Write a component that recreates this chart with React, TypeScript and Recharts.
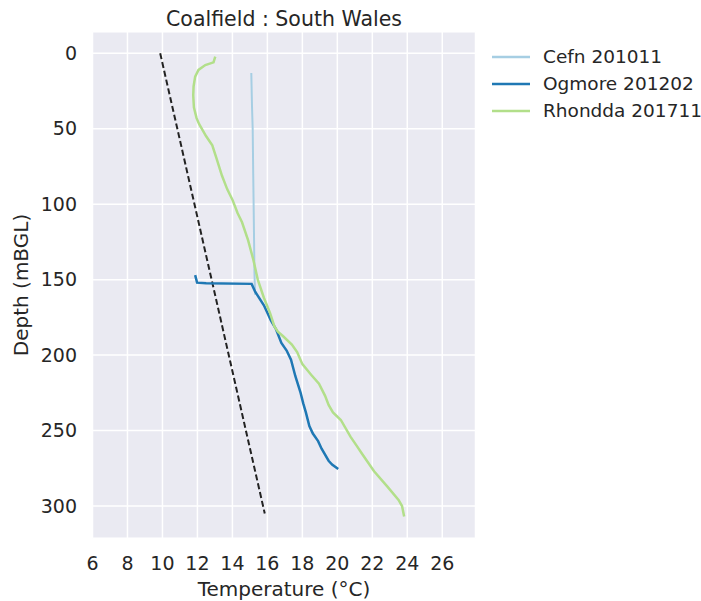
import { ScatterChart, Scatter, XAxis, YAxis, CartesianGrid, Label } from "recharts";

// [temperature °C, depth mBGL]
const cefn: [number, number][] = [
  [15.08, 13], [15.12, 35], [15.16, 50], [15.19, 80], [15.21, 97],
  [15.24, 125], [15.26, 145], [15.28, 153], [15.3, 160],
];

const ogmore: [number, number][] = [
  [11.87, 147], [11.98, 152], [12.5, 152.4], [15.1, 152.8], [15.3, 158],
  [15.8, 167], [16.2, 177], [16.5, 183], [16.8, 192], [17.1, 197],
  [17.35, 203], [17.6, 214], [17.9, 225], [18.05, 232], [18.2, 238],
  [18.4, 247], [18.6, 252], [18.9, 257], [19.1, 262], [19.5, 270],
  [19.7, 272.5], [20.05, 275.5],
];

const rhondda: [number, number][] = [
  [13.02, 2.2], [12.92, 6], [12.45, 7.8], [12.06, 11], [11.87, 15.5],
  [11.78, 22], [11.76, 28], [11.8, 36], [11.95, 43], [12.1, 47],
  [12.5, 55], [12.85, 61], [13.1, 70], [13.4, 81], [13.7, 90],
  [14.0, 97], [14.3, 106], [14.55, 112], [14.9, 124], [15.2, 137],
  [15.45, 150], [15.8, 162], [16.15, 172], [16.4, 181], [16.6, 184.5],
  [16.9, 187.5], [17.4, 193], [17.7, 198], [18.0, 206], [18.5, 213],
  [18.95, 219], [19.3, 227], [19.5, 233], [19.75, 238], [20.2, 243],
  [20.75, 254], [21.1, 260], [21.45, 266], [22.1, 277], [22.85, 287],
  [23.5, 296], [23.7, 300], [23.82, 307],
];

const gradient: [number, number][] = [[9.87, 0], [15.85, 305]];

const xTicks = [6, 8, 10, 12, 14, 16, 18, 20, 22, 24, 26];
const yTicks = [0, 50, 100, 150, 200, 250, 300];

const series = [
  { name: "Cefn 201011", color: "#a6cee3", points: cefn },
  { name: "Ogmore 201202", color: "#1f78b4", points: ogmore },
  { name: "Rhondda 201711", color: "#b2df8a", points: rhondda },
];

const toRows = (pts: [number, number][]) => pts.map(([t, d]) => ({ t, d }));

const font = "'DejaVu Sans', sans-serif";
const textColor = "#262626";

const noDot = () => <g />;

export default function App() {
  return (
    <div style={{ position: "absolute", left: 0, top: 0, width: 701, height: 601, fontFamily: font, background: "#fff" }}>
      <div
        style={{
          position: "absolute", left: 0, top: 9, width: 568, textAlign: "center",
          fontSize: 20.5, lineHeight: "20px", color: textColor, whiteSpace: "nowrap",
        }}
      >
        Coalfield : South Wales
      </div>

      <ScatterChart width={701} height={601} margin={{ top: 31.7, right: 225.5, bottom: 22.7, left: 0 }}>
        <CartesianGrid fill="#EAEAF2" stroke="#ffffff" strokeWidth={1.5} />
        <XAxis
          type="number"
          dataKey="t"
          domain={[6, 27.9]}
          ticks={xTicks}
          allowDataOverflow
          height={40}
          axisLine={false}
          tickLine={false}
          tickSize={0}
          tickMargin={18}
          tick={{ fontSize: 19, fill: textColor, fontFamily: font }}
        >
          <Label
            content={({ viewBox }: any) => (
              <text x={viewBox.x + viewBox.width / 2} y={596} textAnchor="middle" fontSize={20} fill={textColor} fontFamily={font}>
                Temperature (°C)
              </text>
            )}
          />
        </XAxis>
        <YAxis
          type="number"
          dataKey="d"
          reversed
          domain={[-14.3, 321.4]}
          ticks={yTicks}
          allowDataOverflow
          width={92.5}
          axisLine={false}
          tickLine={false}
          tickSize={0}
          tickMargin={15.5}
          tick={{ fontSize: 19, fill: textColor, fontFamily: font }}
        >
          <Label
            content={({ viewBox }: any) => {
              const cy = viewBox.y + viewBox.height / 2;
              return (
                <text x={28} y={cy} transform={`rotate(-90, 28, ${cy})`} textAnchor="middle" fontSize={20} fill={textColor} fontFamily={font}>
                  Depth (mBGL)
                </text>
              );
            }}
          />
        </YAxis>
        <Scatter
          data={toRows(gradient)}
          fill="#222"
          line={{ stroke: "#222", strokeWidth: 2, strokeDasharray: "6 3" }}
          shape={noDot}
          legendType="none"
          isAnimationActive={false}
        />
        {series.map((s) => (
          <Scatter
            key={s.name}
            name={s.name}
            data={toRows(s.points)}
            fill={s.color}
            line={{ stroke: s.color, strokeWidth: s.name.startsWith("Cefn") ? 2 : 2.5 }}
            shape={noDot}
            isAnimationActive={false}
          />
        ))}
      </ScatterChart>

      <div style={{ position: "absolute", left: 492, top: 43, width: 209 }}>
        {series.map((s) => (
          <div key={s.name} style={{ display: "flex", alignItems: "center", height: 27, whiteSpace: "nowrap" }}>
            <svg width={38} height={6} style={{ display: "block", flex: "none" }}>
              <line x1={0} y1={3} x2={38} y2={3} stroke={s.color} strokeWidth={2.5} />
            </svg>
            <span style={{ marginLeft: 13, fontSize: 18.5, color: textColor, lineHeight: "27px" }}>{s.name}</span>
          </div>
        ))}
      </div>
    </div>
  );
}
